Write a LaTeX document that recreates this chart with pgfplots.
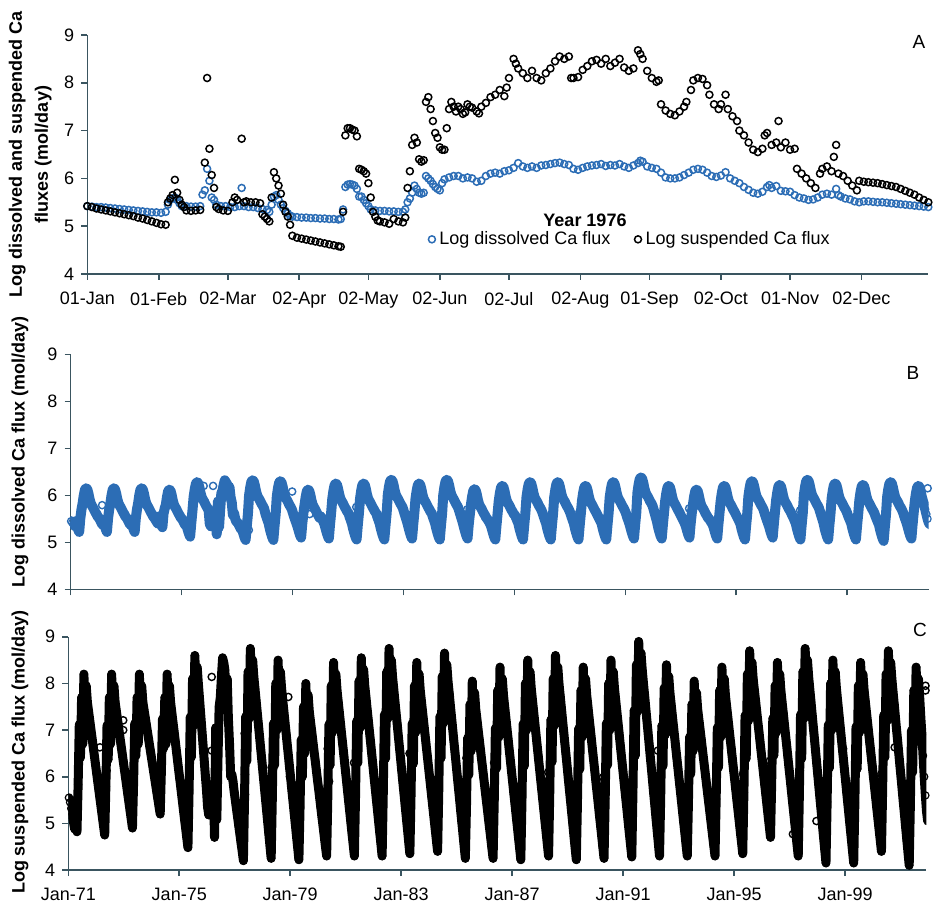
\documentclass[border=0pt]{standalone}
\usepackage{fontspec}
\setmainfont{Liberation Sans}
\usepackage{pgfplots}
\usepackage{pgfplotstable}
\pgfplotsset{compat=1.18}
\definecolor{dis}{HTML}{2C6DB5}
\definecolor{axc}{HTML}{3A5560}

\pgfplotsset{
  panel/.style={scale only axis, axis lines=left,
    axis line style={axc,line width=0.8pt,-},
    ymin=4,ymax=9,ytick={4,...,9},yticklabels={4,5,6,7,8,9},
    tick style={axc,line width=0.8pt},tick align=outside,major tick length=3pt,
    tick label style={font=\fontsize{9}{10}\selectfont},
    xticklabel style={yshift=-2.5pt},
    label style={font=\bfseries\fontsize{9}{13}\selectfont},
    enlargelimits=false},
}

% dissolved flux, semi-monthly, 1971-2001 (24 values a year)
\pgfplotstableread[row sep=\\]{v\\
5.45\\5.42\\5.38\\5.35\\5.45\\5.36\\5.28\\5.22\\5.51\\5.70\\5.83\\6.0\\6.12\\6.15\\6.13\\6.04\\5.92\\5.83\\5.78\\5.74\\5.69\\5.64\\5.6\\5.55\\
5.52\\5.48\\5.43\\5.38\\5.45\\5.36\\5.28\\5.22\\5.51\\5.70\\5.83\\6.0\\6.12\\6.15\\6.13\\6.04\\5.92\\5.83\\5.78\\5.74\\5.69\\5.64\\5.6\\5.55\\
5.52\\5.48\\5.43\\5.38\\5.45\\5.36\\5.28\\5.22\\5.51\\5.70\\5.83\\6.0\\6.12\\6.15\\6.13\\6.04\\5.92\\5.83\\5.78\\5.74\\5.69\\5.64\\5.6\\5.55\\
5.52\\5.48\\5.44\\5.4\\5.55\\5.46\\5.38\\5.32\\5.61\\5.72\\5.8\\5.97\\6.09\\6.12\\6.1\\6.01\\5.89\\5.8\\5.75\\5.71\\5.66\\5.61\\5.57\\5.52\\
5.5\\5.45\\5.4\\5.36\\5.35\\5.26\\5.18\\5.12\\5.41\\5.67\\5.96\\6.13\\6.25\\6.28\\6.26\\6.17\\6.05\\5.96\\5.91\\5.87\\5.82\\5.77\\5.73\\5.68\\
5.39\\5.34\\5.55\\5.66\\5.42\\5.6\\5.17\\5.87\\5.32\\5.7\\6.04\\6.1\\6.22\\6.32\\6.27\\6.25\\6.02\\6.18\\5.96\\5.85\\5.58\\5.62\\5.5\\5.44\\
5.42\\5.38\\5.33\\5.28\\5.28\\5.19\\5.11\\5.05\\5.34\\5.6\\6.0\\6.17\\6.29\\6.32\\6.3\\6.21\\6.09\\6.0\\5.95\\5.91\\5.86\\5.81\\5.77\\5.72\\
5.62\\5.54\\5.47\\5.4\\5.28\\5.19\\5.11\\5.05\\5.34\\5.6\\5.98\\6.15\\6.27\\6.3\\6.28\\6.19\\6.07\\5.98\\5.93\\5.89\\5.84\\5.79\\5.75\\5.7\\
5.62\\5.54\\5.47\\5.4\\5.33\\5.24\\5.16\\5.1\\5.39\\5.62\\5.8\\5.97\\6.09\\6.12\\6.1\\6.01\\5.89\\5.8\\5.75\\5.71\\5.66\\5.61\\5.57\\5.52\\
5.55\\5.5\\5.45\\5.4\\5.31\\5.22\\5.14\\5.08\\5.37\\5.63\\5.93\\6.1\\6.22\\6.25\\6.23\\6.14\\6.02\\5.93\\5.88\\5.84\\5.79\\5.74\\5.7\\5.65\\
5.62\\5.54\\5.47\\5.4\\5.29\\5.2\\5.12\\5.06\\5.35\\5.61\\5.93\\6.1\\6.22\\6.25\\6.23\\6.14\\6.02\\5.93\\5.88\\5.84\\5.79\\5.74\\5.7\\5.65\\
5.62\\5.54\\5.47\\5.4\\5.29\\5.2\\5.12\\5.06\\5.35\\5.61\\6.01\\6.18\\6.3\\6.33\\6.31\\6.22\\6.1\\6.01\\5.96\\5.92\\5.87\\5.82\\5.78\\5.73\\
5.65\\5.57\\5.49\\5.41\\5.31\\5.22\\5.14\\5.08\\5.37\\5.63\\5.93\\6.1\\6.22\\6.25\\6.23\\6.14\\6.02\\5.93\\5.88\\5.84\\5.79\\5.74\\5.7\\5.65\\
5.62\\5.54\\5.47\\5.4\\5.29\\5.2\\5.12\\5.06\\5.35\\5.61\\6.01\\6.18\\6.3\\6.33\\6.31\\6.22\\6.1\\6.01\\5.96\\5.92\\5.87\\5.82\\5.78\\5.73\\
5.65\\5.57\\5.49\\5.41\\5.31\\5.22\\5.14\\5.08\\5.37\\5.6\\5.81\\5.98\\6.1\\6.13\\6.11\\6.02\\5.9\\5.81\\5.76\\5.72\\5.67\\5.62\\5.58\\5.53\\
5.5\\5.46\\5.42\\5.37\\5.29\\5.2\\5.12\\5.06\\5.35\\5.61\\5.88\\6.05\\6.17\\6.2\\6.18\\6.09\\5.97\\5.88\\5.83\\5.79\\5.74\\5.69\\5.65\\5.6\\
5.58\\5.52\\5.46\\5.4\\5.29\\5.2\\5.12\\5.06\\5.35\\5.61\\5.96\\6.13\\6.25\\6.28\\6.26\\6.17\\6.05\\5.96\\5.91\\5.87\\5.82\\5.77\\5.73\\5.68\\
5.62\\5.54\\5.47\\5.4\\5.29\\5.2\\5.12\\5.06\\5.35\\5.61\\5.96\\6.13\\6.25\\6.28\\6.26\\6.17\\6.05\\5.96\\5.91\\5.87\\5.82\\5.77\\5.73\\5.68\\
5.62\\5.54\\5.47\\5.4\\5.29\\5.2\\5.12\\5.06\\5.35\\5.61\\5.88\\6.05\\6.17\\6.2\\6.18\\6.09\\5.97\\5.88\\5.83\\5.79\\5.74\\5.69\\5.65\\5.6\\
5.55\\5.5\\5.45\\5.4\\5.29\\5.2\\5.12\\5.06\\5.35\\5.61\\5.96\\6.13\\6.25\\6.28\\6.26\\6.17\\6.05\\5.96\\5.91\\5.87\\5.82\\5.77\\5.73\\5.68\\
5.62\\5.54\\5.47\\5.4\\5.31\\5.22\\5.14\\5.08\\5.37\\5.63\\6.06\\6.23\\6.35\\6.38\\6.36\\6.27\\6.15\\6.06\\6.01\\5.97\\5.92\\5.87\\5.83\\5.78\\
5.7\\5.61\\5.52\\5.43\\5.31\\5.22\\5.14\\5.08\\5.37\\5.63\\5.88\\6.05\\6.17\\6.2\\6.18\\6.09\\5.97\\5.88\\5.83\\5.79\\5.74\\5.69\\5.65\\5.6\\
5.55\\5.5\\5.45\\5.4\\5.33\\5.24\\5.16\\5.1\\5.39\\5.62\\5.8\\5.97\\6.09\\6.12\\6.1\\6.01\\5.89\\5.8\\5.75\\5.71\\5.66\\5.61\\5.57\\5.52\\
5.5\\5.46\\5.42\\5.38\\5.31\\5.22\\5.14\\5.08\\5.37\\5.63\\5.88\\6.05\\6.17\\6.2\\6.18\\6.09\\5.97\\5.88\\5.83\\5.79\\5.74\\5.69\\5.65\\5.6\\
5.55\\5.5\\5.45\\5.4\\5.29\\5.2\\5.12\\5.06\\5.35\\5.61\\5.98\\6.15\\6.27\\6.3\\6.28\\6.19\\6.07\\5.98\\5.93\\5.89\\5.84\\5.79\\5.75\\5.7\\
5.62\\5.54\\5.47\\5.4\\5.33\\5.24\\5.16\\5.1\\5.39\\5.65\\5.9\\6.07\\6.19\\6.22\\6.2\\6.11\\5.99\\5.9\\5.85\\5.81\\5.76\\5.71\\5.67\\5.62\\
5.57\\5.52\\5.46\\5.4\\5.29\\5.2\\5.12\\5.06\\5.35\\5.61\\6.01\\6.18\\6.3\\6.33\\6.31\\6.22\\6.1\\6.01\\5.96\\5.92\\5.87\\5.82\\5.78\\5.73\\
5.65\\5.57\\5.49\\5.41\\5.29\\5.2\\5.12\\5.06\\5.35\\5.61\\5.93\\6.1\\6.22\\6.25\\6.23\\6.14\\6.02\\5.93\\5.88\\5.84\\5.79\\5.74\\5.7\\5.65\\
5.58\\5.52\\5.46\\5.4\\5.29\\5.2\\5.12\\5.06\\5.35\\5.61\\5.9\\6.07\\6.19\\6.22\\6.2\\6.11\\5.99\\5.9\\5.85\\5.81\\5.76\\5.71\\5.67\\5.62\\
5.55\\5.49\\5.43\\5.37\\5.26\\5.17\\5.09\\5.03\\5.32\\5.58\\5.96\\6.13\\6.25\\6.28\\6.26\\6.17\\6.05\\5.96\\5.91\\5.87\\5.82\\5.77\\5.73\\5.68\\
5.62\\5.54\\5.47\\5.4\\5.31\\5.22\\5.14\\5.08\\5.37\\5.63\\5.88\\6.05\\6.17\\6.2\\6.18\\6.09\\5.97\\5.88\\5.8\\5.7\\5.6\\5.5\\5.42\\5.38\\
}\tabB

% suspended flux, semi-monthly, 1971-2001
\pgfplotstableread[row sep=\\]{v\\
5.55\\5.45\\5.32\\5.2\\5.02\\4.88\\4.98\\4.82\\5.83\\7.12\\6.41\\7.7\\6.7\\8.2\\7.3\\7.95\\7.6\\7.41\\7.22\\7.03\\6.84\\6.65\\6.46\\6.27\\
6.08\\5.89\\5.7\\5.51\\5.32\\5.13\\4.94\\4.75\\5.79\\7.1\\6.37\\7.7\\6.7\\8.2\\7.3\\7.95\\7.6\\7.42\\7.24\\7.06\\6.88\\6.7\\6.52\\6.34\\
6.16\\5.98\\5.8\\5.62\\5.44\\5.26\\5.08\\4.9\\5.89\\7.14\\6.45\\7.7\\6.7\\8.2\\7.3\\7.95\\7.6\\7.44\\7.28\\7.12\\6.96\\6.8\\6.64\\6.48\\
6.32\\6.16\\6.0\\5.84\\5.68\\5.52\\5.36\\5.2\\6.1\\7.24\\6.61\\7.7\\6.7\\8.2\\7.3\\7.95\\7.6\\7.39\\7.18\\6.98\\6.77\\6.56\\6.35\\6.14\\
5.94\\5.73\\5.52\\5.31\\5.1\\4.9\\4.69\\4.48\\5.72\\7.28\\6.42\\8.1\\7.1\\8.6\\7.7\\8.35\\8.0\\7.68\\7.35\\7.03\\6.7\\6.38\\6.05\\5.73\\
5.35\\5.18\\5.65\\5.4\\5.5\\5.85\\4.7\\7.05\\5.08\\6.4\\7.5\\7.7\\8.15\\8.55\\8.45\\8.28\\7.42\\8.1\\7.25\\6.7\\6.0\\6.05\\5.9\\5.68\\
5.5\\5.31\\5.13\\4.94\\4.76\\4.57\\4.39\\4.2\\5.57\\7.29\\6.34\\8.25\\7.25\\8.75\\7.85\\8.5\\8.15\\7.89\\7.63\\7.37\\7.11\\6.85\\6.59\\6.33\\
6.07\\5.81\\5.55\\5.29\\5.03\\4.77\\4.51\\4.25\\5.53\\7.14\\6.25\\8.0\\7.0\\8.5\\7.6\\8.25\\7.9\\7.65\\7.41\\7.16\\6.92\\6.67\\6.43\\6.18\\
5.94\\5.69\\5.45\\5.2\\4.96\\4.71\\4.47\\4.22\\5.35\\6.79\\6.0\\7.5\\6.5\\8.0\\7.1\\7.75\\7.4\\7.19\\6.99\\6.78\\6.57\\6.37\\6.16\\5.95\\
5.75\\5.54\\5.33\\5.12\\4.92\\4.71\\4.5\\4.3\\5.55\\7.12\\6.25\\7.95\\6.95\\8.45\\7.55\\8.2\\7.85\\7.61\\7.38\\7.14\\6.9\\6.67\\6.43\\6.19\\
5.96\\5.72\\5.48\\5.25\\5.01\\4.77\\4.54\\4.3\\5.58\\7.19\\6.3\\8.05\\7.05\\8.55\\7.65\\8.3\\7.95\\7.71\\7.46\\7.22\\6.98\\6.74\\6.49\\6.25\\
6.0\\5.76\\5.52\\5.28\\5.03\\4.79\\4.55\\4.3\\5.64\\7.33\\6.39\\8.25\\7.25\\8.75\\7.85\\8.5\\8.15\\7.9\\7.64\\7.39\\7.14\\6.88\\6.63\\6.38\\
6.12\\5.87\\5.62\\5.36\\5.11\\4.86\\4.6\\4.35\\5.58\\7.14\\6.28\\7.95\\6.95\\8.45\\7.55\\8.2\\7.85\\7.62\\7.39\\7.16\\6.93\\6.7\\6.47\\6.24\\
6.01\\5.78\\5.55\\5.32\\5.09\\4.86\\4.63\\4.4\\5.68\\7.29\\6.4\\8.15\\7.15\\8.65\\7.75\\8.4\\8.05\\7.8\\7.54\\7.29\\7.04\\6.78\\6.53\\6.28\\
6.02\\5.77\\5.52\\5.26\\5.01\\4.76\\4.5\\4.25\\5.39\\6.83\\6.04\\7.55\\6.55\\8.05\\7.15\\7.8\\7.45\\7.24\\7.02\\6.81\\6.6\\6.38\\6.17\\5.96\\
5.74\\5.53\\5.32\\5.1\\4.89\\4.68\\4.46\\4.25\\5.48\\7.04\\6.18\\7.85\\6.85\\8.35\\7.45\\8.1\\7.75\\7.51\\7.28\\7.04\\6.81\\6.57\\6.34\\6.1\\
5.87\\5.63\\5.4\\5.16\\4.93\\4.69\\4.46\\4.22\\5.5\\7.13\\6.23\\8.0\\7.0\\8.5\\7.6\\8.25\\7.9\\7.66\\7.42\\7.18\\6.94\\6.7\\6.46\\6.22\\
5.98\\5.74\\5.5\\5.26\\5.02\\4.78\\4.54\\4.3\\5.59\\7.22\\6.32\\8.1\\7.1\\8.6\\7.7\\8.35\\8.0\\7.75\\7.5\\7.24\\6.99\\6.74\\6.49\\6.24\\
5.98\\5.73\\5.48\\5.23\\4.98\\4.72\\4.47\\4.22\\5.46\\7.03\\6.16\\7.85\\6.85\\8.35\\7.45\\8.1\\7.75\\7.52\\7.28\\7.05\\6.82\\6.58\\6.35\\6.12\\
5.88\\5.65\\5.42\\5.18\\4.95\\4.72\\4.48\\4.25\\5.53\\7.14\\6.25\\8.0\\7.0\\8.5\\7.6\\8.25\\7.9\\7.66\\7.42\\7.18\\6.94\\6.69\\6.45\\6.21\\
5.97\\5.73\\5.49\\5.25\\5.0\\4.76\\4.52\\4.28\\5.67\\7.42\\6.45\\8.4\\7.4\\8.9\\8.0\\8.65\\8.3\\8.03\\7.77\\7.5\\7.23\\6.97\\6.7\\6.43\\
6.17\\5.9\\5.63\\5.37\\5.1\\4.83\\4.57\\4.3\\5.53\\7.09\\6.23\\7.9\\6.9\\8.4\\7.5\\8.15\\7.8\\7.57\\7.33\\7.1\\6.87\\6.63\\6.4\\6.17\\
5.93\\5.7\\5.47\\5.23\\5.0\\4.77\\4.53\\4.3\\5.43\\6.85\\6.06\\7.55\\6.55\\8.05\\7.15\\7.8\\7.45\\7.24\\7.03\\6.82\\6.61\\6.4\\6.19\\5.98\\
5.77\\5.56\\5.35\\5.14\\4.93\\4.72\\4.51\\4.3\\5.52\\7.05\\6.2\\7.85\\6.85\\8.35\\7.45\\8.1\\7.75\\7.52\\7.3\\7.07\\6.84\\6.62\\6.39\\6.16\\
5.94\\5.71\\5.48\\5.26\\5.03\\4.8\\4.58\\4.35\\5.66\\7.31\\6.39\\8.2\\7.2\\8.7\\7.8\\8.45\\8.1\\7.87\\7.65\\7.42\\7.19\\6.97\\6.74\\6.51\\
6.29\\6.06\\5.83\\5.61\\5.38\\5.15\\4.93\\4.7\\5.83\\7.25\\6.46\\7.95\\6.95\\8.45\\7.55\\8.2\\7.85\\7.61\\7.38\\7.14\\6.9\\6.67\\6.43\\6.19\\
5.96\\5.72\\5.48\\5.25\\5.01\\4.77\\4.54\\4.3\\5.64\\7.33\\6.39\\8.25\\7.25\\8.75\\7.85\\8.5\\8.15\\7.88\\7.62\\7.35\\7.08\\6.82\\6.55\\6.28\\
6.02\\5.75\\5.48\\5.22\\4.95\\4.68\\4.42\\4.15\\5.46\\7.11\\6.19\\8.0\\7.0\\8.5\\7.6\\8.25\\7.9\\7.65\\7.4\\7.15\\6.9\\6.65\\6.4\\6.15\\
5.9\\5.65\\5.4\\5.15\\4.9\\4.65\\4.4\\4.15\\5.44\\7.07\\6.17\\7.95\\6.95\\8.45\\7.55\\8.2\\7.85\\7.62\\7.39\\7.16\\6.93\\6.7\\6.47\\6.24\\
6.01\\5.78\\5.55\\5.32\\5.09\\4.86\\4.63\\4.4\\5.69\\7.32\\6.42\\8.2\\7.2\\8.7\\7.8\\8.45\\8.1\\7.83\\7.57\\7.3\\7.03\\6.77\\6.5\\6.23\\
5.97\\5.7\\5.43\\5.17\\4.9\\4.63\\4.37\\4.1\\5.38\\6.99\\6.1\\7.85\\6.85\\8.35\\7.45\\8.1\\7.75\\7.3\\6.9\\6.45\\6.0\\5.6\\5.25\\5.05\\
}\tabC

\begin{document}
\begin{tikzpicture}[x=1pt,y=1pt]
\useasboundingbox (0,0) rectangle (467.5,452.5);

% ---------- A: year 1976, daily ----------
\begin{axis}[panel, at={(43.65pt,315.5pt)}, anchor=south west,
  width=420.5pt, height=119.5pt, xmin=1, xmax=366,
  xtick={1,32,62,93,123,154,184,215,245,276,306,337},
  xticklabels={01-Jan,01-Feb,02-Mar,02-Apr,02-May,02-Jun,02-Jul,02-Aug,01-Sep,02-Oct,01-Nov,02-Dec},
  ylabel={Log dissolved and suspended Ca\\fluxes (mol/day)},
  ylabel style={align=center,at={(axis description cs:-0.068,0.5)},anchor=center},
  legend columns=2,
  legend image code/.code={\draw[#1] plot coordinates {(3pt,0pt)};},
  legend style={at={(axis description cs:0.398,0.145)},anchor=west,draw=none,fill=none,
    font=\fontsize{9}{10}\selectfont,cells={anchor=west},
    /tikz/every even column/.append style={column sep=10pt}}]
\addplot[only marks,mark=o,dis,mark size=1.75pt,line width=0.75pt] coordinates {
(1,5.42)(3,5.41)(5,5.40)(7,5.40)(9,5.39)(11,5.38)(13,5.37)(15,5.36)(17,5.35)(19,5.34)
(21,5.33)(23,5.32)(25,5.31)(27,5.30)(29,5.29)(31,5.29)(33,5.28)(35,5.30)(36,5.45)(37,5.55)
(38,5.58)(39,5.60)(40,5.55)(41,5.48)(42,5.42)(44,5.42)(46,5.41)(48,5.41)(50,5.42)(51,5.66)
(52,5.75)(53,6.20)(54,5.95)(55,5.60)(56,5.55)(57,5.45)(59,5.42)(61,5.42)(63,5.40)(65,5.40)
(67,5.42)(68,5.80)(69,5.42)(71,5.40)(73,5.40)(75,5.38)(77,5.36)(79,5.34)(80,5.30)(81,5.45)
(82,5.62)(83,5.65)(84,5.55)(85,5.45)(86,5.38)(87,5.32)(88,5.27)(89,5.22)(90,5.20)(92,5.19)
(94,5.18)(96,5.18)(98,5.17)(100,5.17)(102,5.16)(104,5.16)(106,5.15)(108,5.15)(110,5.14)(111,5.15)
(112,5.35)(113,5.82)(114,5.87)(115,5.88)(116,5.87)(117,5.85)(118,5.78)(119,5.62)(120,5.62)(121,5.55)
(122,5.48)(123,5.42)(124,5.35)(126,5.33)(128,5.32)(130,5.32)(132,5.31)(134,5.31)(136,5.30)(138,5.30)
(139,5.35)(140,5.50)(141,5.58)(142,5.70)(143,5.85)(144,5.78)(145,5.70)(146,5.68)(147,5.70)(148,6.05)
(149,6.00)(150,5.95)(151,5.88)(152,5.82)(153,5.78)(154,5.75)(155,5.90)(156,5.98)(158,6.02)(160,6.05)
(162,6.05)(164,6.00)(166,6.02)(168,6.00)(170,5.93)(172,5.95)(174,6.05)(176,6.10)(178,6.12)(180,6.10)
(182,6.15)(184,6.17)(186,6.22)(188,6.32)(190,6.25)(192,6.22)(194,6.25)(196,6.22)(198,6.27)(200,6.28)
(202,6.30)(204,6.32)(206,6.33)(208,6.30)(210,6.28)(212,6.20)(214,6.18)(216,6.22)(218,6.25)(220,6.27)
(222,6.28)(224,6.30)(226,6.26)(228,6.28)(230,6.27)(232,6.30)(234,6.25)(236,6.22)(238,6.27)(240,6.32)
(241,6.37)(242,6.35)(244,6.25)(246,6.22)(248,6.20)(250,6.12)(252,6.02)(254,6.00)(256,6.00)(258,6.02)
(260,6.07)(262,6.12)(264,6.18)(266,6.20)(268,6.18)(270,6.12)(272,6.05)(274,6.03)(276,6.06)(278,6.13)
(280,6.00)(282,5.95)(284,5.90)(286,5.82)(288,5.76)(290,5.70)(292,5.68)(294,5.72)(296,5.82)(297,5.86)
(298,5.80)(300,5.84)(302,5.74)(304,5.73)(306,5.72)(308,5.65)(310,5.60)(312,5.58)(314,5.55)(316,5.56)
(318,5.60)(320,5.66)(322,5.68)(324,5.66)(326,5.78)(327,5.65)(328,5.62)(330,5.58)(332,5.56)(334,5.52)
(336,5.50)(338,5.52)(340,5.52)(342,5.51)(344,5.50)(346,5.50)(348,5.49)(350,5.48)(352,5.47)(354,5.46)
(356,5.45)(358,5.44)(360,5.43)(362,5.42)(364,5.41)(366,5.40)};
\addlegendentry{Log dissolved Ca flux}
\addplot[only marks,mark=o,black,mark size=1.75pt,line width=0.75pt] coordinates {
(1,5.42)(3,5.40)(5,5.37)(7,5.35)(9,5.33)(11,5.31)(13,5.29)(15,5.27)(17,5.25)(19,5.23)
(21,5.21)(23,5.18)(25,5.16)(27,5.13)(29,5.10)(31,5.07)(33,5.04)(35,5.03)(36,5.50)(37,5.58)
(38,5.65)(39,5.97)(40,5.70)(41,5.55)(42,5.45)(43,5.40)(44,5.33)(46,5.32)(48,5.33)(50,5.34)
(52,6.33)(53,8.10)(54,6.62)(55,6.07)(56,5.80)(57,5.40)(58,5.36)(60,5.33)(62,5.32)(64,5.50)
(65,5.60)(66,5.55)(68,6.83)(69,5.50)(70,5.52)(72,5.50)(74,5.50)(76,5.48)(77,5.25)(78,5.20)
(79,5.15)(80,5.10)(81,5.60)(82,6.13)(83,6.00)(84,5.85)(85,5.68)(86,5.45)(87,5.30)(88,5.20)
(89,5.03)(90,4.80)(92,4.76)(94,4.74)(96,4.72)(98,4.70)(100,4.68)(102,4.66)(104,4.64)(106,4.62)
(108,4.60)(110,4.58)(111,4.57)(112,5.30)(113,6.90)(114,7.05)(115,7.05)(116,7.02)(117,7.00)(118,6.88)
(119,6.20)(120,6.18)(121,6.15)(122,6.10)(123,5.90)(124,5.60)(125,5.30)(126,5.20)(127,5.12)(128,5.10)
(130,5.08)(132,5.05)(134,5.15)(136,5.10)(138,5.08)(139,5.18)(140,5.80)(141,6.15)(142,6.70)(143,6.85)
(144,6.75)(145,6.40)(146,6.35)(147,6.38)(148,7.60)(149,7.70)(150,7.45)(151,7.20)(152,6.95)(153,6.85)
(154,6.65)(155,6.60)(156,6.60)(157,7.05)(158,7.45)(159,7.60)(160,7.50)(161,7.40)(162,7.50)(163,7.45)
(164,7.35)(165,7.38)(166,7.55)(167,7.50)(168,7.48)(170,7.40)(171,7.36)(172,7.50)(174,7.58)(176,7.70)
(178,7.75)(180,7.85)(182,7.72)(183,7.90)(184,8.10)(186,8.50)(187,8.40)(188,8.30)(190,8.20)(192,8.10)
(194,8.25)(196,8.10)(198,8.05)(200,8.20)(202,8.30)(204,8.45)(206,8.55)(208,8.50)(210,8.55)(211,8.10)
(212,8.10)(214,8.12)(216,8.27)(218,8.35)(220,8.45)(222,8.48)(224,8.40)(226,8.50)(228,8.35)(230,8.42)
(232,8.50)(234,8.32)(236,8.25)(238,8.30)(240,8.68)(241,8.60)(242,8.50)(244,8.25)(246,8.10)(248,8.02)
(249,8.05)(250,7.55)(252,7.42)(254,7.35)(256,7.32)(258,7.40)(260,7.50)(261,7.60)(263,7.85)(264,8.05)
(266,8.10)(268,8.08)(270,7.95)(271,7.75)(273,7.55)(275,7.45)(276,7.55)(278,7.75)(279,7.45)(281,7.30)
(283,7.20)(284,7.00)(286,6.90)(288,6.75)(290,6.60)(292,6.55)(294,6.62)(295,6.90)(296,6.95)(298,6.70)
(300,6.75)(301,7.20)(302,6.65)(304,6.75)(306,6.60)(308,6.62)(309,6.20)(311,6.10)(313,6.00)(315,5.90)
(317,5.80)(319,6.10)(320,6.20)(322,6.25)(324,6.15)(325,6.45)(326,6.70)(327,6.10)(329,6.05)(331,5.95)
(333,5.85)(335,5.75)(336,5.95)(338,5.93)(340,5.92)(342,5.91)(344,5.90)(346,5.88)(348,5.86)(350,5.84)
(352,5.82)(354,5.78)(356,5.74)(358,5.70)(360,5.66)(362,5.60)(364,5.55)(366,5.50)};
\addlegendentry{Log suspended Ca flux}
\end{axis}

% ---------- B: dissolved, 1971-2001 ----------
\begin{axis}[panel, at={(35.25pt,157.85pt)}, anchor=south west,
  width=429pt, height=117.5pt, xmin=1971, xmax=2001.93,
  xtick={1971,1975,...,1999}, xticklabels={},
  ylabel={Log dissolved Ca flux (mol/day)},
  ylabel style={at={(axis description cs:-0.0589,0.584)},anchor=center}]
\addplot[dis,line width=5pt,line join=round,line cap=round,mark=o,mark size=1.8pt,
  mark options={line width=0.6pt}] table[x expr={1971+(\coordindex+0.5)/24},y=v] {\tabB};
\addplot[only marks,mark=o,dis,mark size=1.8pt,line width=0.7pt] coordinates {
(1972.14,5.79)(1975.8,6.2)(1976.14,6.2)(1977.43,5.26)(1978.39,5.61)(1978.4,5.43)
(1978.99,6.08)(1979.62,5.6)(1981.3,5.75)(1983.35,5.55)(1985.3,5.7)(1987.3,5.45)
(1989.35,5.65)(1991.3,5.5)(1993.3,5.72)(1995.35,5.55)(1997.3,5.68)(1999.3,5.45)(2001.9,6.15)};
\end{axis}

% ---------- C: suspended, 1971-2001 ----------
\begin{axis}[panel, at={(34.15pt,17.5pt)}, anchor=south west,
  width=429pt, height=116.6pt, xmin=1971, xmax=2001.93,
  xtick={1971,1975,...,1999},
  xticklabels={Jan-71,Jan-75,Jan-79,Jan-83,Jan-87,Jan-91,Jan-95,Jan-99},
  ylabel={Log suspended Ca flux (mol/day)},
  ylabel style={at={(axis description cs:-0.0563,0.504)},anchor=center}]
\addplot[black,line width=4.5pt,line join=round,line cap=round,mark=o,mark size=1.8pt,
  mark options={line width=0.6pt}] table[x expr={1971+(\coordindex+0.5)/24},y=v] {\tabC};
\addplot[only marks,mark=o,black,mark size=1.8pt,line width=0.7pt] coordinates {
(1972.14,6.63)(1972.38,6.13)(1972.98,7.21)(1972.98,7.0)(1974.3,5.8)(1975.31,5.48)
(1976.17,8.14)(1976.17,6.56)(1977.37,6.05)(1977.37,5.62)(1977.36,6.93)(1978.33,6.2)
(1978.33,5.48)(1978.93,7.71)(1978.99,6.0)(1980.35,6.6)(1980.4,5.9)(1981.3,6.3)
(1982.35,5.7)(1983.3,6.5)(1984.3,5.5)(1985.35,6.4)(1986.3,5.7)(1986.35,6.3)
(1987.3,5.1)(1988.3,6.1)(1989.3,5.6)(1990.28,5.99)(1990.28,5.27)(1990.28,4.63)
(1991.24,5.7)(1991.24,5.05)(1992.25,5.63)(1992.25,6.56)(1993.28,5.34)(1994.3,4.84)
(1994.3,5.2)(1995.32,6.06)(1996.29,5.84)(1996.29,6.34)(1997.12,4.77)(1997.37,6.13)
(1997.97,5.05)(1998.93,6.6)(1999.29,4.84)(2000.31,6.06)(2000.31,4.91)(2000.79,6.63)
(2001.27,5.56)(2001.27,5.31)(2001.9,7.95)(2001.9,7.85)};
\end{axis}

\node[font=\bfseries\fontsize{9}{10}\selectfont] at (292.5,342.5) {Year 1976};
\node[font=\fontsize{9.5}{10}\selectfont] at (459.5,431.5) {A};
\node[font=\fontsize{9.5}{10}\selectfont] at (456.5,266) {B};
\node[font=\fontsize{9.5}{10}\selectfont] at (460,137.5) {C};
\end{tikzpicture}
\end{document}
